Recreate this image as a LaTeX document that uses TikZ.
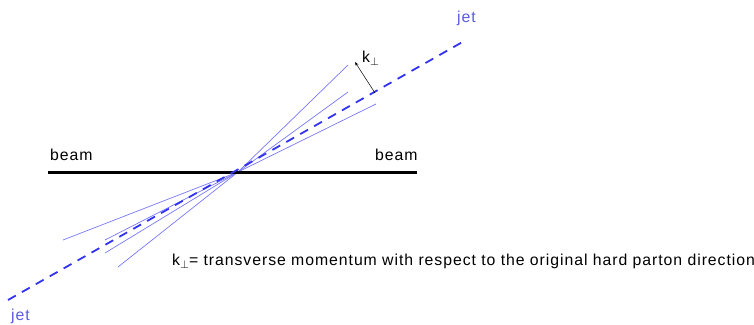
\documentclass[tikz,border=0pt]{standalone}
\usepackage{fontspec}
\setmainfont[LetterSpace=6]{Liberation Sans}
\usetikzlibrary{arrows.meta}
\definecolor{jetblue}{RGB}{50,50,240}
\definecolor{jettext}{RGB}{90,90,225}
\definecolor{thinblue}{RGB}{120,120,250}
\newcommand{\kperp}{k\raisebox{-3pt}{\scalebox{0.8}{$\perp$}}}
\begin{document}
\begin{tikzpicture}[x=1pt,y=-1pt,
  lbl/.style={inner sep=0pt,anchor=base west,font=\fontsize{15.8}{18}\selectfont},
  jetlbl/.style={lbl,text=jettext},
  beamline/.style={line width=3pt,black},
  jetline/.style={jetblue,line width=1.8pt,dash pattern=on 9pt off 7pt},
  track/.style={thinblue,line width=0.7pt},
  kt/.style={black,line width=0.5pt,-{Stealth[length=4pt,width=3pt]}}]
\useasboundingbox (0,0) rectangle (754,324);
% coordinates
\coordinate (c) at (238,172);
\coordinate (bl) at (48,172);
\coordinate (br) at (417,172);
\coordinate (jb) at (8,300);
\coordinate (jt) at (466,40);
\coordinate (u1) at (348,65);
\coordinate (u2) at (348,92);
\coordinate (u3) at (376,104);
\coordinate (d1) at (63,240);
\coordinate (d2) at (105,240);
\coordinate (d3) at (105,253);
\coordinate (d4) at (118,267);
\coordinate (ks) at (375,93);
\coordinate (ke) at (355,62);
% tracks
\foreach \p in {u1,u2,u3,d1,d2,d3,d4} \draw[track] (c) -- (\p);
% beam
\draw[beamline] (bl) -- (br);
% jet
\draw[jetline] (jb) -- (jt);
% kt arrow
\draw[kt] (ks) -- (ke);
% labels
\node[lbl] (beamL) at (50,160) {beam};
\node[lbl] (beamR) at (375,160) {beam};
\node[jetlbl] (jetT) at (457,22) {jet};
\node[jetlbl] (jetB) at (11,320) {jet};
\node[lbl] (ktl) at (362,62) {\kperp};
\node[lbl] (def) at (172,265) {\kperp= transverse momentum with respect to the original hard parton direction};
\end{tikzpicture}
\end{document}
